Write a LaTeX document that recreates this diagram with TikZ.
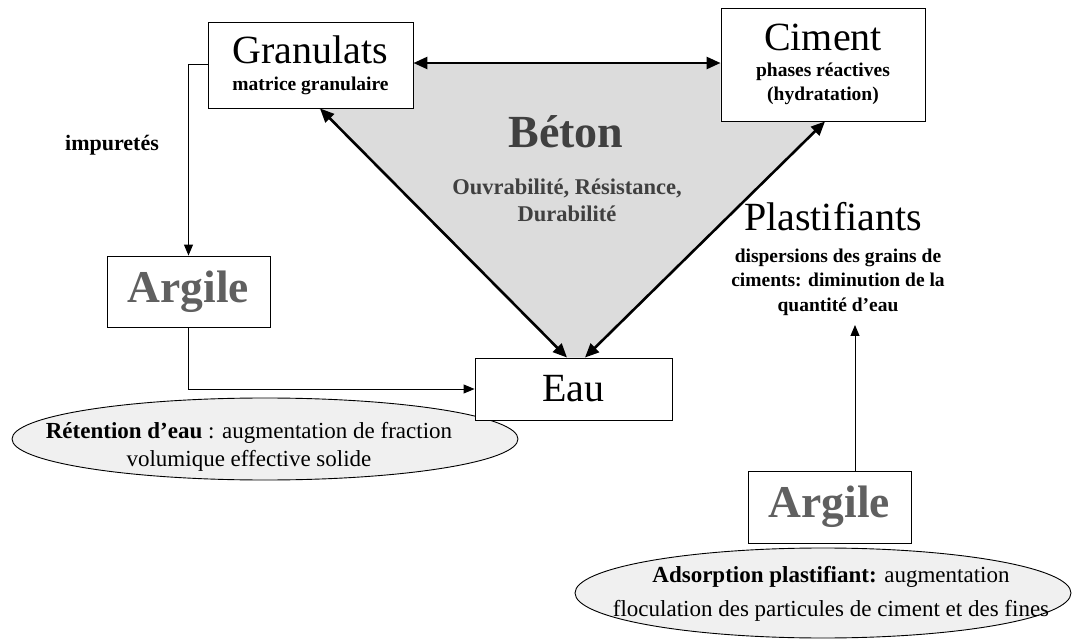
\documentclass[tikz,border=0pt]{standalone}
\usepackage{fontspec}
\setmainfont{Liberation Serif}
\usetikzlibrary{arrows.meta, positioning, calc, shapes.geometric, backgrounds}
\definecolor{betongray}{RGB}{220,220,220}
\definecolor{argilegray}{RGB}{96,96,96}
\definecolor{betontext}{RGB}{64,64,64}
\definecolor{ellgray}{RGB}{240,240,240}
\newcommand{\titlefont}{\fontsize{40}{42}\selectfont\mdseries}
\newcommand{\subfont}{\fontsize{19.5}{24}\selectfont\bfseries}
\newcommand{\argfont}{\fontsize{45.5}{48}\selectfont\bfseries}
\newcommand{\ellfont}{\fontsize{23}{28}\selectfont}

\begin{document}
\begin{tikzpicture}[x=1pt, y=-1pt,
  box/.style={draw, fill=white, line width=0.9pt, align=center, inner sep=0pt},
  bulle/.style={ellipse, draw, fill=ellgray, line width=0.9pt, inner sep=0pt},
  thin arrow/.style={line width=1pt, -{Triangle[length=11pt, width=9pt]}},
  both arrow/.style={line width=2.6pt, {Triangle[length=14pt, width=12pt]}-{Triangle[length=14pt, width=12pt]}}]
  \useasboundingbox (0,0) rectangle (1072,639);

  % boxes and bubbles
  \node[box, font=\subfont, minimum width=205pt, minimum height=86pt] (granulats) at (310.5,65)
    {{\titlefont Granulats}\\[3pt]matrice granulaire};
  \node[box, font=\subfont, minimum width=204pt, minimum height=113pt] (ciment) at (823,64.5)
    {{\titlefont Ciment}\\[2pt]phases réactives\\(hydratation)};
  \node[box, font=\argfont, text=argilegray, minimum width=163pt, minimum height=71pt] (argileA) at (188.5,291.5)
    {Argile};
  \node[bulle, minimum width=506pt, minimum height=82pt] (retention) at (265,439) {};
  \node[align=center, font=\ellfont] (retentiontxt) at (249,447)
    {\textbf{Rétention d’eau} : augmentation de fraction\\volumique effective solide};
  \node[box, font=\titlefont, minimum width=197pt, minimum height=62pt] (eau) at (573.5,389)
    {Eau};
  \node[box, font=\argfont, text=argilegray, minimum width=163pt, minimum height=72pt] (argileB) at (829.5,507)
    {Argile};
  \node[bulle, minimum width=496pt, minimum height=90pt] (adsorption) at (823,593) {};
  \node[align=center, font=\ellfont] (adsorptiontxt) at (831,594)
    {\textbf{Adsorption plastifiant:} augmentation\\[6pt]floculation des particules de ciment et des fines};

  % free texts
  \node[font=\fontsize{46}{48}\selectfont\bfseries, text=betontext] (beton) at (566,132) {Béton};
  \node[align=center, font=\fontsize{22.5}{27}\selectfont\bfseries, text=betontext] (proprietes) at (567,200)
    {Ouvrabilité, Résistance,\\Durabilité};
  \node[font=\fontsize{22}{24}\selectfont\bfseries] (impuretes) at (112,145) {impuretés};
  \node[font=\titlefont] (plastifiants) at (833,217) {Plastifiants};
  \node[align=center, font=\fontsize{19.5}{24.5}\selectfont\bfseries] (dispersion) at (838,282)
    {dispersions des grains de\\ciments: diminution de la\\quantité d’eau};
  \coordinate (plasttip) at (855,325);

  % gray triangle
  \begin{pgfonlayer}{background}
    \fill[betongray] ([xshift=8pt]granulats.south) -- (granulats.south east) -- ([yshift=2pt]granulats.east)
      -- ([yshift=1.5pt]ciment.west) -- (ciment.south west) -- ([xshift=2pt]ciment.south)
      -- ([xshift=11.5pt]eau.north) -- ([xshift=-6.5pt]eau.north) -- cycle;
  \end{pgfonlayer}

  % connectors
  \draw[both arrow] ([yshift=2pt]granulats.east) -- ([yshift=1.5pt]ciment.west);
  \draw[both arrow] ([xshift=9.5pt]granulats.south) -- ([xshift=-6.5pt]eau.north);
  \draw[both arrow] ([xshift=11.5pt]eau.north) -- ([xshift=2pt]ciment.south);
  \draw[thin arrow] (granulats.west) -| (argileA.north);
  \draw[thin arrow] (argileA.south) |- (eau.west);
  \draw[thin arrow] (argileB.north -| plasttip) -- (plasttip);
\end{tikzpicture}
\end{document}
